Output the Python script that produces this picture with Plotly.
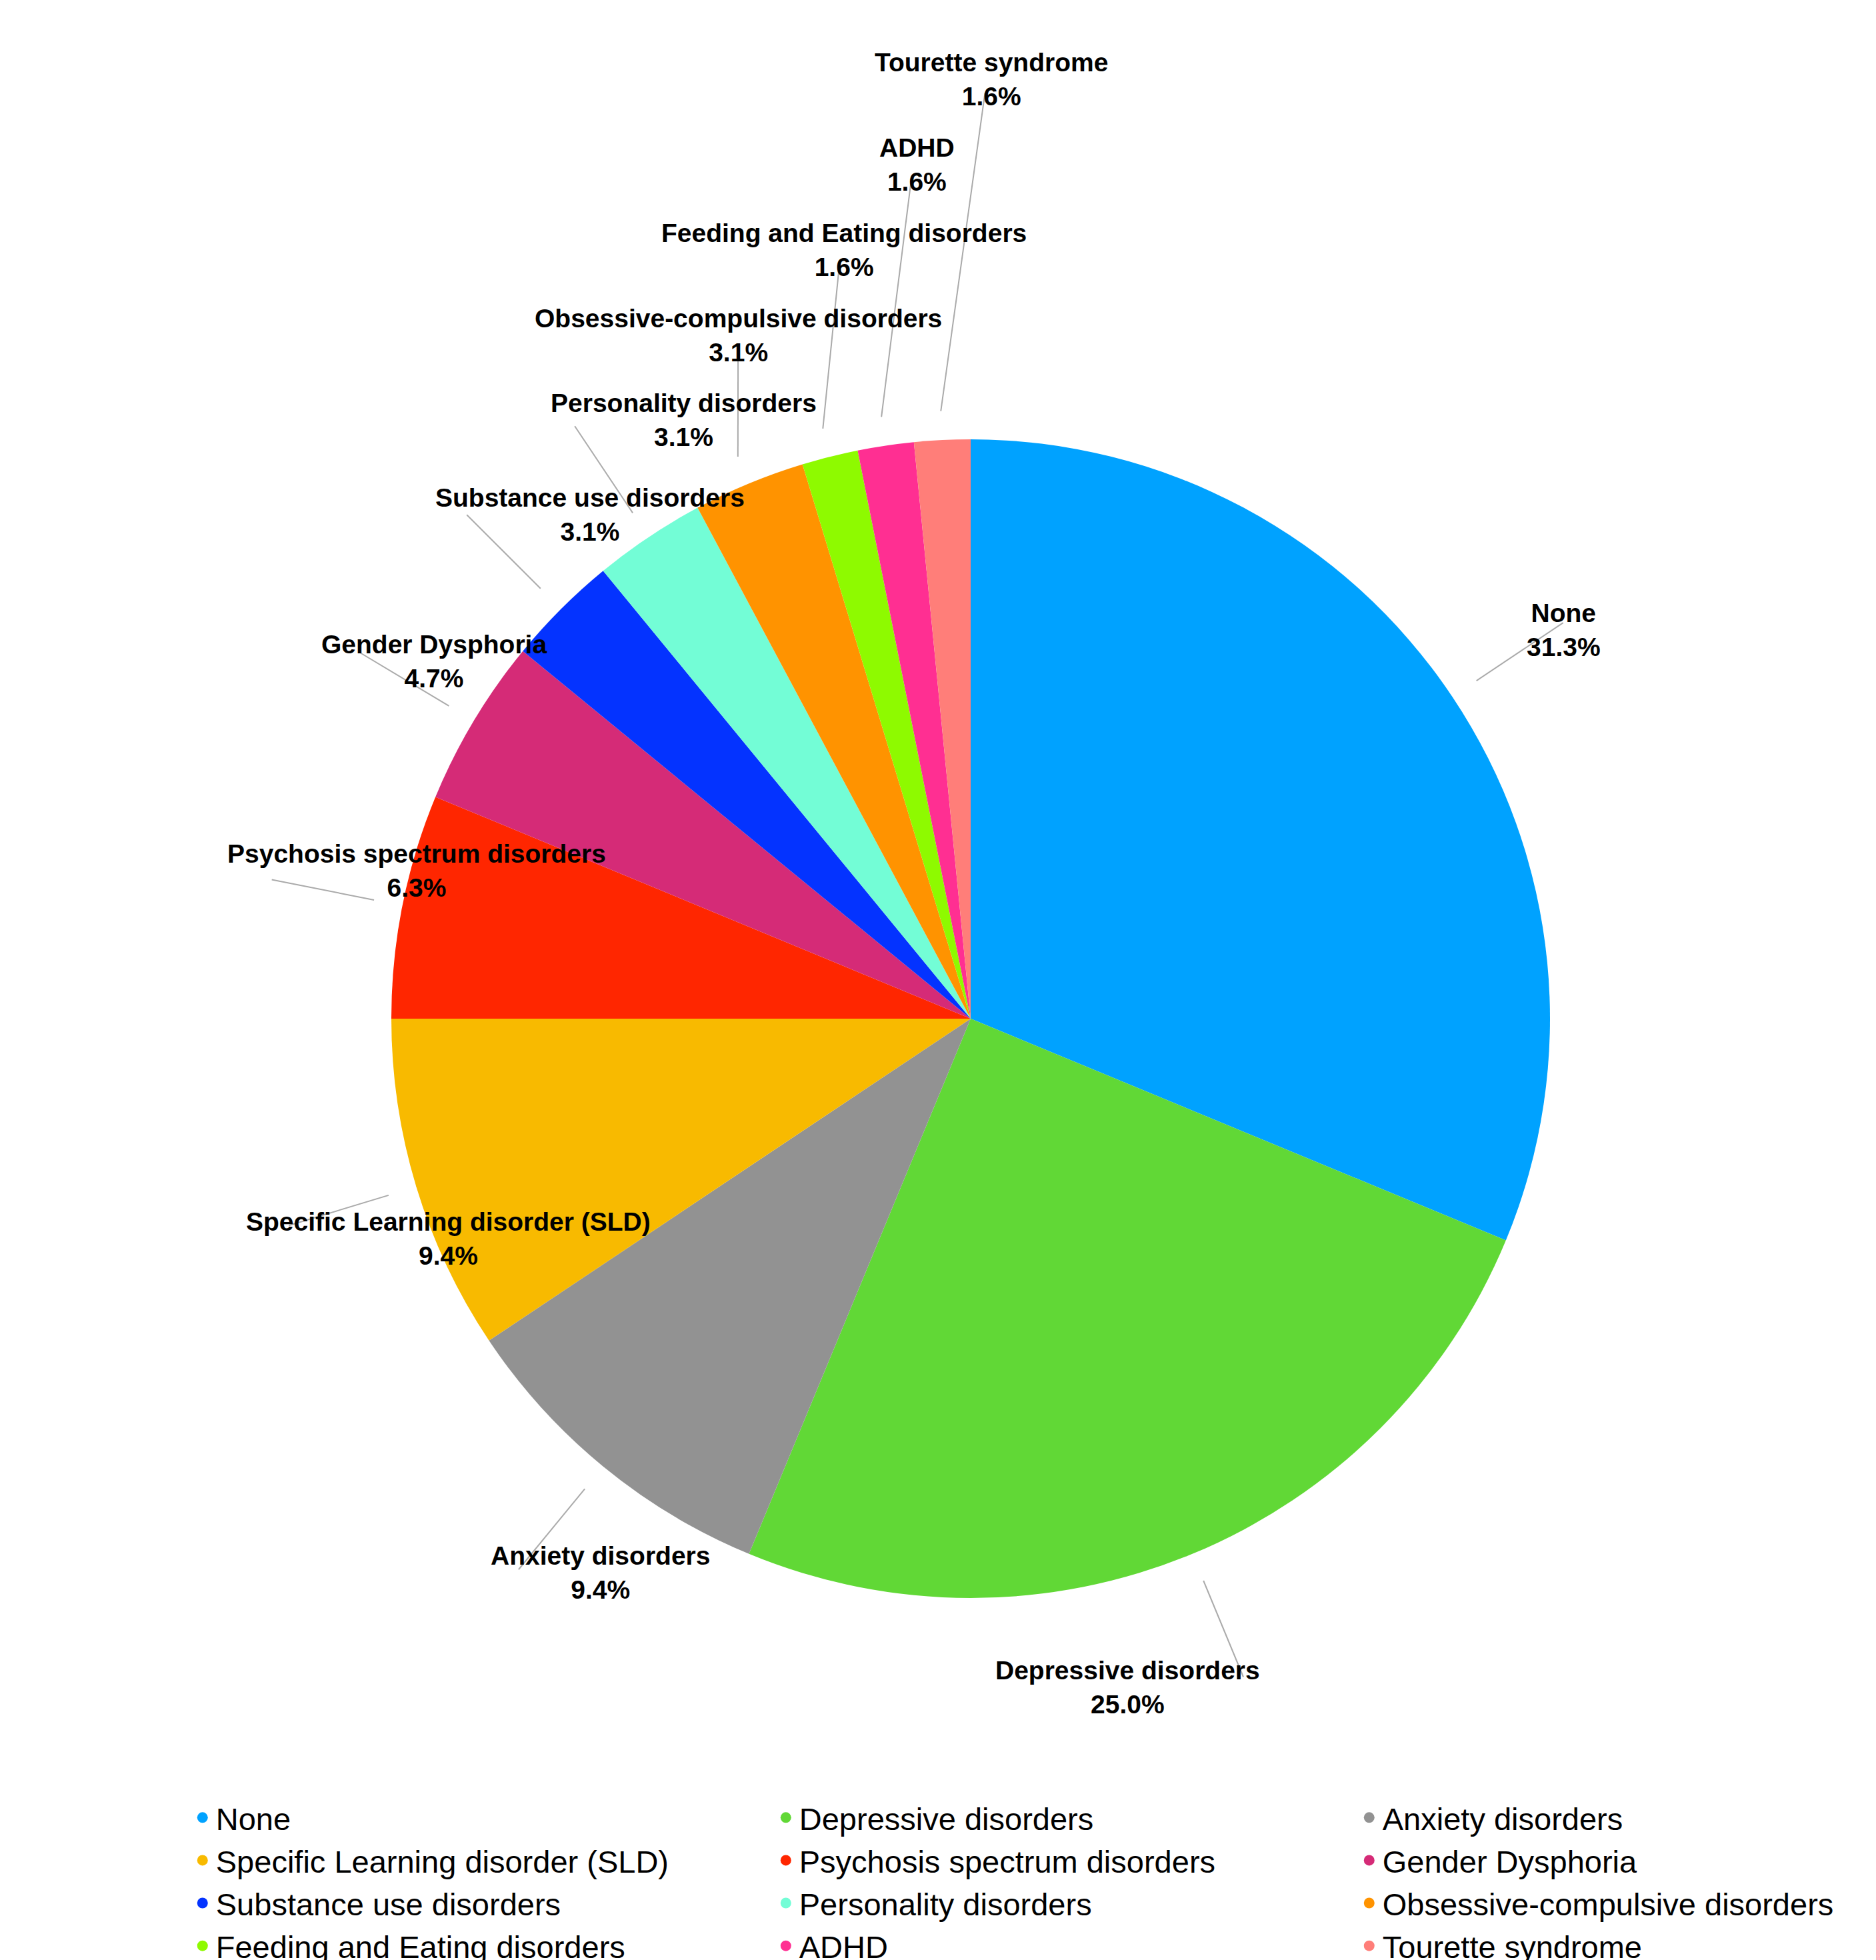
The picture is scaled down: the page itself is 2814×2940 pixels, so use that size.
import math
from decimal import Decimal, ROUND_HALF_UP
import plotly.graph_objects as go

# diagnoses, number of patients (out of 64)
labels = [
    "None", "Depressive disorders", "Anxiety disorders", "Specific Learning disorder (SLD)",
    "Psychosis spectrum disorders", "Gender Dysphoria", "Substance use disorders",
    "Personality disorders", "Obsessive-compulsive disorders", "Feeding and Eating disorders",
    "ADHD", "Tourette syndrome",
]
counts = [20, 16, 6, 6, 4, 3, 2, 2, 2, 1, 1, 1]
colors = [
    "#00A2FF", "#61D836", "#929292", "#F8BA00", "#FF2600", "#D52B77",
    "#0433FF", "#73FDD6", "#FF9300", "#8EFA00", "#FF2F92", "#FF7E79",
]

W, H = 2814, 2940
CX, CY, R = 1448, 1520, 869  # pie centre / radius in px

fig = go.Figure(go.Pie(
    labels=labels, values=counts, sort=False, direction="clockwise", rotation=0,
    marker=dict(colors=colors, line=dict(width=0)), textinfo="none", hoverinfo="label+percent",
    showlegend=False,
    domain=dict(x=[(CX - R) / W, (CX + R) / W], y=[1 - (CY + R) / H, 1 - (CY - R) / H]),
))

# legend entries with round markers
for lab, col in zip(labels, colors):
    fig.add_trace(go.Scatter(x=[None], y=[None], mode="markers", name=lab,
                             marker=dict(color=col, size=44, symbol="circle")))


def pct(c, total):
    v = Decimal(c * 100) / Decimal(total)
    return str(v.quantize(Decimal("0.1"), rounding=ROUND_HALF_UP))


# outside labels with leader lines, placed from slice mid angles
total = sum(counts)
cum = 0
prev_y = None
annotations, shapes = [], []
for i, (lab, c) in enumerate(zip(labels, counts)):
    mid = (cum + c / 2) / total * 2 * math.pi
    cum += c
    ux, uy = math.sin(mid), -math.cos(mid)  # y down
    lx, ly = ux * 1.31 * R, uy * 1.31 * R
    if i >= 6 and prev_y is not None and ly > prev_y - 0.147 * R:
        ly = prev_y - 0.147 * R
        lx += 0.1 * R
    if i >= 6:
        prev_y = ly
    sx, sy = ux * 1.05 * R, uy * 1.05 * R
    vx, vy = lx - sx, ly - sy
    d = math.hypot(vx, vy)
    ex, ey = lx - vx / d * 0.08 * R, ly - vy / d * 0.08 * R
    to_p = lambda px, py: ((CX + px) / W, 1 - (CY + py) / H)
    x0, y0 = to_p(sx, sy)
    x1, y1 = to_p(ex, ey)
    shapes.append(dict(type="line", xref="paper", yref="paper", x0=x0, y0=y0, x1=x1, y1=y1,
                       line=dict(color="#AAAAAA", width=2)))
    ax, ay = to_p(lx, ly)
    annotations.append(dict(
        x=ax, y=ay, xref="paper", yref="paper", showarrow=False,
        text=f"<b>{lab}</b><br><b>{pct(c, total)}%</b>",
        font=dict(size=39, color="black"), align="center",
    ))

fig.update_layout(
    width=W, height=H, margin=dict(l=0, r=0, t=0, b=0, autoexpand=False),
    paper_bgcolor="white", plot_bgcolor="white",
    font=dict(family="Liberation Sans, Arial, sans-serif"),
    xaxis=dict(visible=False), yaxis=dict(visible=False),
    annotations=annotations, shapes=shapes,
    legend=dict(orientation="h", x=0.098, y=0.088, xanchor="left", yanchor="top",
                entrywidth=830, entrywidthmode="pixels",
                font=dict(size=47, color="black"), tracegroupgap=0),
)
fig.write_html("out.html")
